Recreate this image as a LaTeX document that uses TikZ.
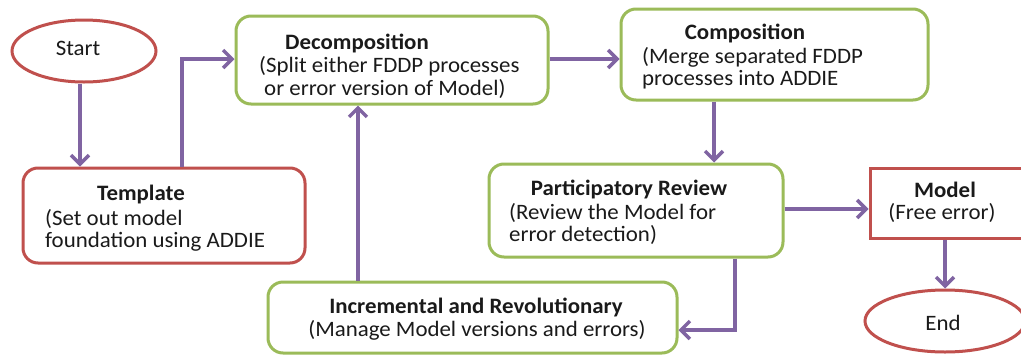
\documentclass[tikz,border=0pt]{standalone}
\usepackage{fontspec}
\setmainfont{Carlito}[FakeStretch=1.04]
\usetikzlibrary{arrows.meta,shapes.geometric,calc}
\definecolor{ored}{HTML}{C0504D}
\definecolor{ogreen}{HTML}{9BBB59}
\definecolor{opurple}{HTML}{8064A2}
\definecolor{txt}{HTML}{1A1A1A}
\begin{document}
\begin{tikzpicture}[x=1pt,y=-1pt,
  box/.style={draw, line width=3pt, rounded corners=15pt, inner sep=0pt, fill=white},
  gbox/.style={box, draw=ogreen},
  rbox/.style={box, draw=ored},
  oval/.style={ellipse, draw=ored, line width=3pt, inner sep=0pt, fill=white},
  sqbox/.style={draw=ored, line width=3pt, inner sep=0pt, fill=white},
  arr/.style={draw=opurple, line width=3.5pt, -{Straight Barb[length=9pt,width=18pt]}},
  ttl/.style={font=\fontsize{22}{23}\selectfont\bfseries, text=txt, inner sep=0pt},
  dsc/.style={font=\fontsize{22}{23}\selectfont, text=txt, inner sep=0pt},
]
\useasboundingbox (0,0) rectangle (1021,354);
\clip (0,0) rectangle (1021,354);
\fill[white] (0,0) rectangle (1021,354);

% shapes
\node[oval, minimum width=144pt, minimum height=62pt] (start) at (84,51) {};
\node[rbox, minimum width=282pt, minimum height=95pt] (tmpl) at (164,215.5) {};
\node[gbox, minimum width=312pt, minimum height=88pt] (dec) at (392,60) {};
\node[gbox, minimum width=307pt, minimum height=91pt] (comp) at (774.5,54.5) {};
\node[gbox, minimum width=294pt, minimum height=93pt] (rev) at (636,210.5) {};
\node[sqbox, minimum width=170pt, minimum height=70pt] (model) at (955,203) {};
\node[gbox, minimum width=409pt, minimum height=71pt] (inc) at (472.5,317.5) {};
\node[oval, minimum width=160pt, minimum height=62pt] (end) at (945,321) {};

% texts
\node[dsc] (tstart) at (78,48) {Start};
\node[ttl] (ttmpl) at (141,195) {Template};
\node[dsc, anchor=west] (dtmpl1) at (45,219) {(Set out model};
\node[dsc, anchor=west] (dtmpl2) at (45,242) {foundation using ADDIE};
\node[ttl] (tdec) at (357,43) {Decomposition};
\node[dsc, anchor=west] (ddec1) at (259,66) {(Split either FDDP processes};
\node[dsc, anchor=west] (ddec2) at (264,89) {or error version of Model)};
\node[ttl] (tcomp) at (745,33) {Composition};
\node[dsc, anchor=west] (dcomp1) at (642,57) {(Merge separated FDDP};
\node[dsc, anchor=west] (dcomp2) at (642,80) {processes into ADDIE};
\node[ttl] (trev) at (629,189) {Participatory Review};
\node[dsc, anchor=west] (drev1) at (509,213) {(Review the Model for};
\node[dsc, anchor=west] (drev2) at (509,235) {error detection)};
\node[ttl] (tmodel) at (945,190) {Model};
\node[dsc] (dmodel) at (942,213) {(Free error)};
\node[ttl] (tinc) at (476,307) {Incremental and Revolutionary};
\node[dsc] (dinc) at (477,330) {(Manage Model versions and errors)};
\node[dsc] (tend) at (943,323) {End};

% connector anchor points
\coordinate (xa) at (80,0);
\coordinate (xb) at (182,0);
\coordinate (ya) at (0,59);
\coordinate (xc) at (714,0);
\coordinate (yb) at (0,209);
\coordinate (xd) at (735,0);
\coordinate (yc) at (0,330);
\coordinate (xe) at (358,0);

% connectors
\draw[arr] (start.south -| xa) -- (tmpl.north -| xa);
\draw[arr] (tmpl.north -| xb) |- (dec.west |- ya);
\draw[arr] (dec.east |- ya) -- (comp.west |- ya);
\draw[arr] (comp.south -| xc) -- (rev.north -| xc);
\draw[arr] (rev.east |- yb) -- (model.west |- yb);
\draw[arr] (model.south -| end.north) -- (end.north);
\draw[arr] (rev.south -| xd) |- (inc.east |- yc);
\draw[arr] (inc.north -| xe) -- (dec.south -| xe);
\end{tikzpicture}
\end{document}
